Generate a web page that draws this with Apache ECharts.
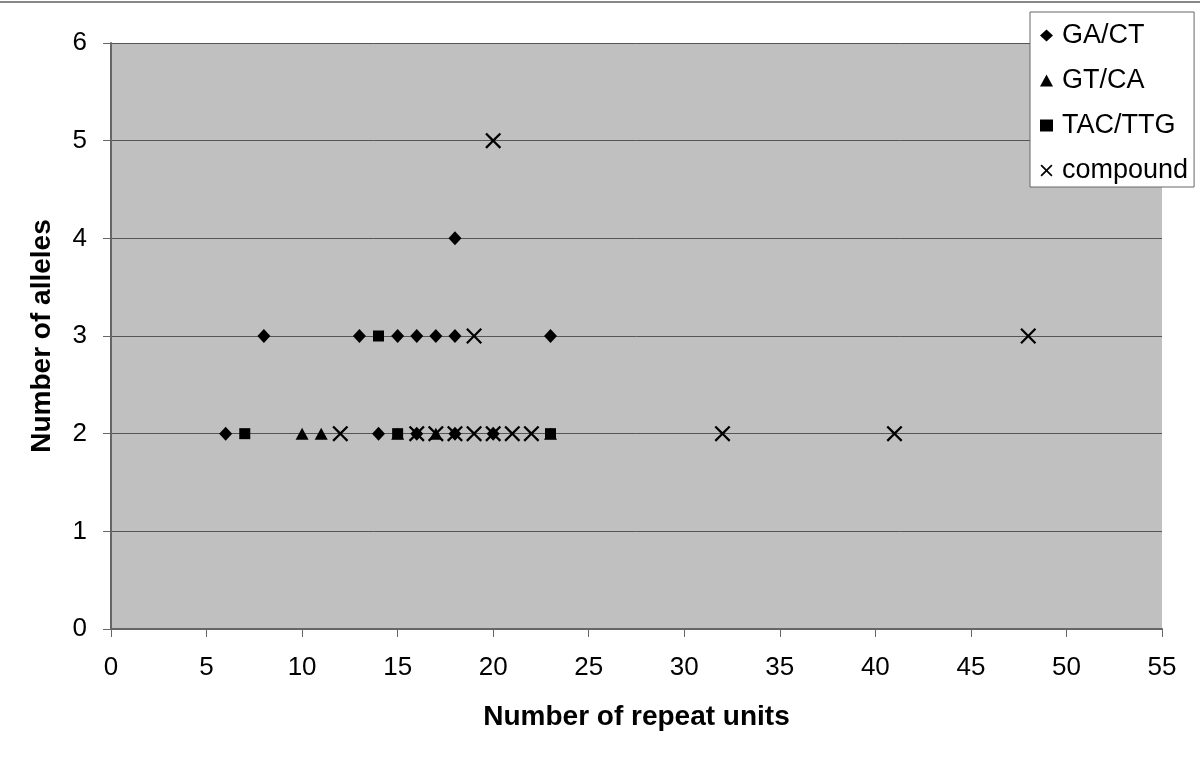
<!DOCTYPE html>
<html><head><meta charset="utf-8">
<script src="https://cdn.jsdelivr.net/npm/echarts@6/dist/echarts.min.js"></script>
<style>html,body{margin:0;padding:0;background:#fff}#c{width:1200px;height:759px}</style>
</head><body><div id="c"></div>
<script>
const seriesNames = ['GA/CT', 'GT/CA', 'TAC/TTG', 'compound'];
const gaCt = [[6,2],[8,3],[13,3],[14,2],[15,3],[16,2],[16,3],[17,3],[18,2],[18,3],[18,4],[20,2],[23,3]];
const gtCa = [[10,2],[11,2],[15,2],[17,2],[23,2]];
const tacTtg = [[7,2],[14,3],[15,2],[23,2]];
const compound = [[12,2],[16,2],[17,2],[18,2],[19,2],[19,3],[20,2],[20,5],[21,2],[22,2],[32,2],[41,2],[48,3]];
const xTicks = [0,5,10,15,20,25,30,35,40,45,50,55];
const yTicks = [0,1,2,3,4,5,6];

const FONT = 'Liberation Sans, Arial, sans-serif';
const xPath = 'path://M0,1L1,0L5,4L9,0L10,1L6,5L10,9L9,10L5,6L1,10L0,9L4,5Z';
const symbols = ['diamond', 'triangle', 'rect', xPath];
const sizes = [[13, 14], [13, 12], 11, 16];
const datas = [gaCt, gtCa, tacTtg, compound];

const chart = echarts.init(document.getElementById('c'));
chart.setOption({
  animation: false,
  backgroundColor: '#fff',
  grid: { left: 111, right: 38, top: 43, bottom: 130, show: true, backgroundColor: '#c0c0c0', borderWidth: 0 },
  graphic: [{ type: 'line', shape: { x1: 0, y1: 2, x2: 1200, y2: 2 }, style: { stroke: '#888', lineWidth: 2 } }],
  xAxis: {
    type: 'value', min: xTicks[0], max: xTicks[xTicks.length - 1], interval: 5,
    name: 'Number of repeat units', nameLocation: 'middle', nameGap: 74,
    nameTextStyle: { fontFamily: FONT, fontSize: 28, fontWeight: 'bold', color: '#000' },
    axisLine: { lineStyle: { color: '#666', width: 2 } },
    axisTick: { show: true, length: 8, lineStyle: { color: '#666' } },
    axisLabel: { margin: 26, fontFamily: FONT, fontSize: 26, color: '#000' },
    splitLine: { show: false }
  },
  yAxis: {
    type: 'value', min: yTicks[0], max: yTicks[yTicks.length - 1], interval: 1,
    name: 'Number of alleles', nameLocation: 'middle', nameGap: 55,
    nameTextStyle: { fontFamily: FONT, fontSize: 28, fontWeight: 'bold', color: '#000' },
    axisLine: { show: true, lineStyle: { color: '#666', width: 2 } },
    axisTick: { show: true, length: 8, lineStyle: { color: '#666' } },
    axisLabel: { margin: 24, fontFamily: FONT, fontSize: 26, color: '#000' },
    splitLine: { show: true, lineStyle: { color: '#555', width: 1 } }
  },
  legend: {
    orient: 'vertical', left: 1030, top: 12,
    backgroundColor: '#fff', borderColor: '#666', borderWidth: 1, borderRadius: 0,
    padding: [10, 6, 3, 10], itemGap: 18, itemWidth: 13, itemHeight: 12,
    textStyle: { fontFamily: FONT, fontSize: 27, color: '#000', padding: [0, 0, 0, 4] },
    data: seriesNames.map((n, i) => ({ name: n, icon: symbols[i] }))
  },
  series: seriesNames.map((n, i) => ({
    name: n, type: 'scatter', data: datas[i], symbol: symbols[i], symbolSize: sizes[i],
    itemStyle: { color: '#000', opacity: 1 }
  }))
});
</script></body></html>
